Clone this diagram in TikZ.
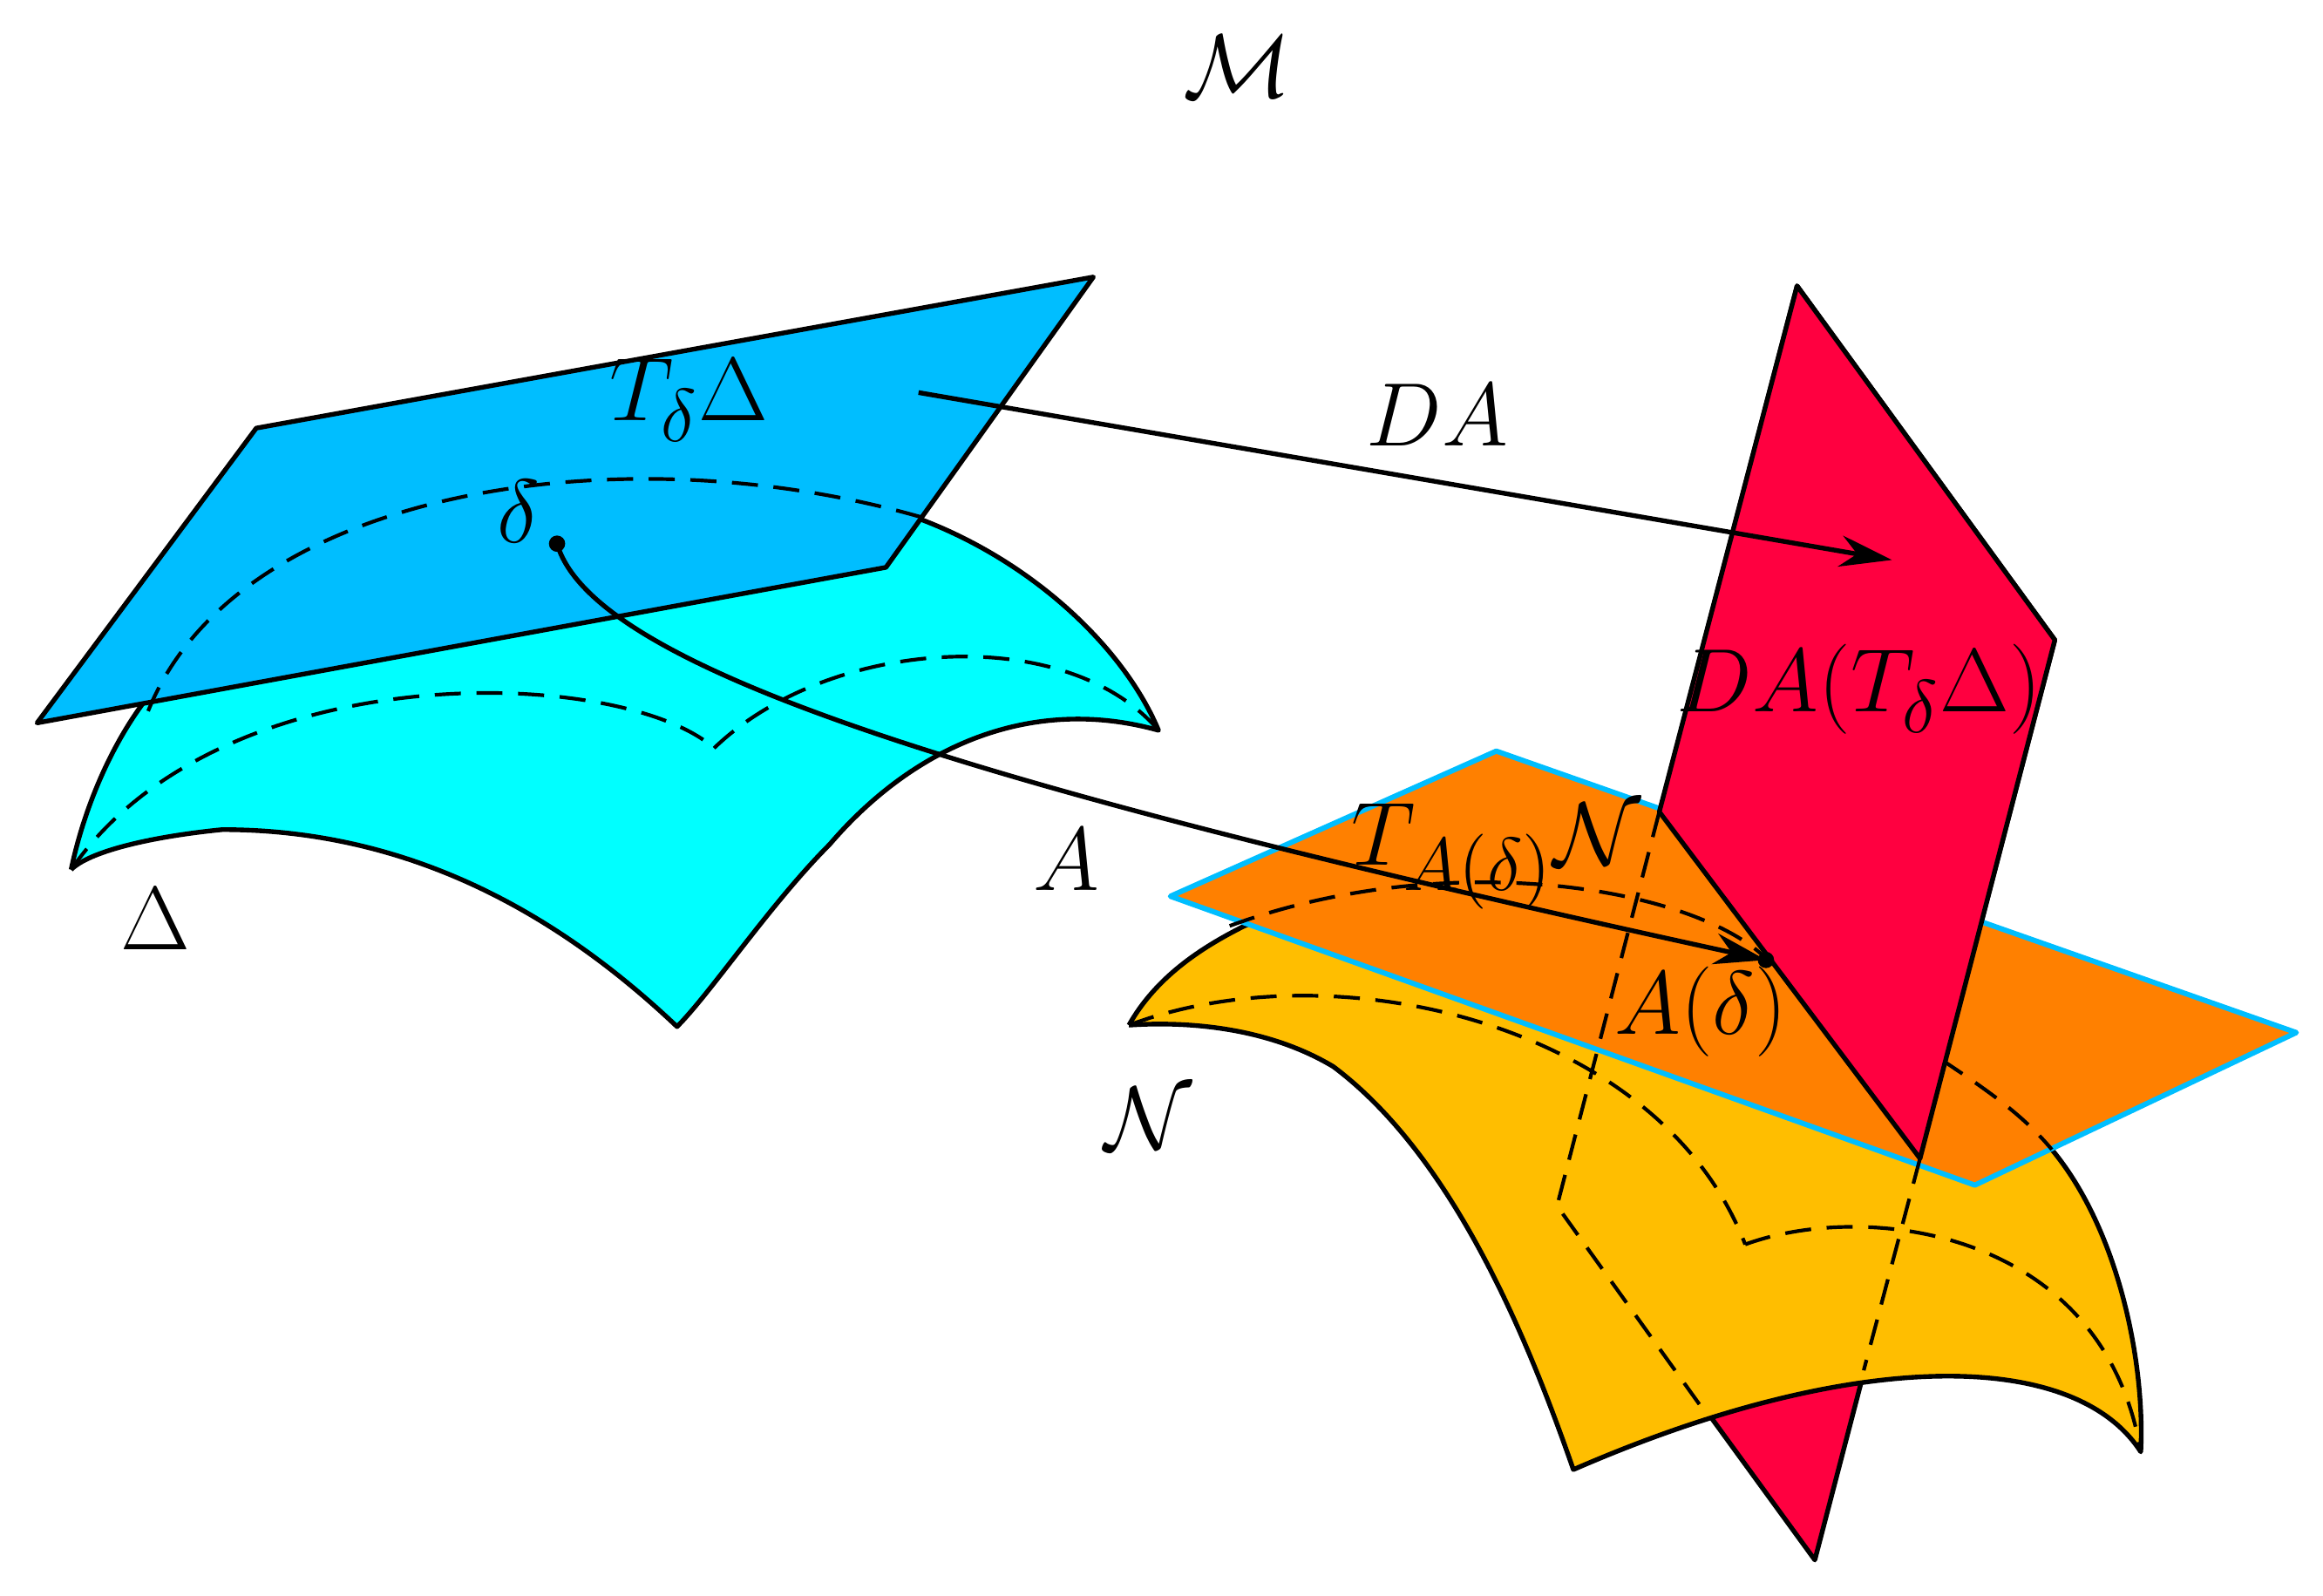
\documentclass[tikz,border=0pt]{standalone}
\usetikzlibrary{arrows.meta}
\begin{document}
\begin{tikzpicture}[x=0.01cm,y=-0.01cm,line join=round,
  edge/.style={draw=black,line width=0.9pt},
  hid/.style={draw=black,dashed,dash pattern=on 5pt off 3pt,line width=0.7pt},
  lab/.style={font=\fontsize{19}{22}\selectfont},
  arr/.style={line width=0.9pt,-{Stealth[length=10pt,width=6pt]}}]
\useasboundingbox (0,0) rectangle (1568,1077);
\definecolor{cyanS}{RGB}{0,255,255}
\definecolor{blueP}{RGB}{0,190,255}
\definecolor{redP}{RGB}{255,0,64}
\definecolor{orangeP}{RGB}{255,128,0}
\definecolor{yellowS}{RGB}{255,190,0}
% cyan surface
\path[fill=cyanS,edge] (48,587) .. controls (60,530) and (90,470) .. (130,440)
  .. controls (300,300) and (560,320) .. (620,350)
  .. controls (700,380) and (760,440) .. (782,493)
  .. controls (700,470) and (620,500) .. (560,570)
  .. controls (520,610) and (480,670) .. (457,693)
  .. controls (380,620) and (280,560) .. (150,560)
  .. controls (100,565) and (60,575) .. (48,587);
\draw[hid] (48,587) .. controls (150,440) and (420,450) .. (482,505);
\draw[hid] (482,505) .. controls (560,430) and (720,420) .. (782,493);
% blue plane
\path[fill=blueP,edge] (25,488) -- (173,289) -- (738,187) -- (598,383) -- cycle;
\draw[hid] (100,480) .. controls (160,330) and (420,290) .. (625,350);
\node[lab] (Tdel) at (465,270) {$T_\delta\Delta$};
\node[lab] (del) at (350,345) {$\delta$};
\fill (376,367) circle (5.5) coordinate (dpt);
% red plane (full)
\path[fill=redP,edge] (1213,193) -- (1387,432) -- (1225,1053) -- (1051,814) -- cycle;
% yellow surface
\path[fill=yellowS,edge] (762,692) .. controls (780,660) and (810,640) .. (840,625)
  .. controls (1000,560) and (1250,600) .. (1385,776)
  .. controls (1430,830) and (1448,920) .. (1445,980)
  .. controls (1400,910) and (1250,910) .. (1062,992)
  .. controls (1030,900) and (980,780) .. (900,720)
  .. controls (850,690) and (790,690) .. (762,692);
\draw[hid] (762,692) .. controls (900,640) and (1120,690) .. (1178,840);
\draw[hid] (1178,840) .. controls (1260,810) and (1420,830) .. (1445,980);
% orange plane
\path[fill=orangeP,draw=blueP,line width=1pt] (790,605) -- (1010,507) -- (1550,697) -- (1333,800) -- cycle;
\draw[hid] (830,625) .. controls (980,570) and (1150,600) .. (1195,650);
\draw[hid] (1310,715) .. controls (1340,735) and (1365,752) .. (1385,776);
\draw[hid] (1120,548) -- (1051,814) -- (1150,952);
\draw[hid] (1296,782) -- (1258,925);
% red plane upper part
\path[fill=redP,edge] (1120,548) -- (1213,193) -- (1387,432) -- (1296,782) -- cycle;
% labels
\node[lab] (M) at (835,45) {$\mathcal{M}$};
\node[lab] (Del) at (105,620) {$\Delta$};
\node[lab] (Nn) at (775,755) {$\mathcal{N}$};
\node[lab] (TA) at (1010,578) {$T_{A(\delta)}\mathcal{N}$};
\node[lab] (Ad) at (1148,683) {$A(\delta)$};
\node[lab] (DAT) at (1255,465) {$DA(T_\delta\Delta)$};
\node[lab] (DA) at (970,280) {$DA$};
\node[lab] (Al) at (720,580) {$A$};
% arrows
\coordinate (dAs) at (620,265);
\coordinate (dAe) at (1277,378);
\draw[arr] (dAs) -- (dAe);
\fill (1192,648) circle (5.5) coordinate (Apt);
\draw[arr] (dpt) .. controls (400,450) and (650,530) .. (1192,648);
\end{tikzpicture}
\end{document}
